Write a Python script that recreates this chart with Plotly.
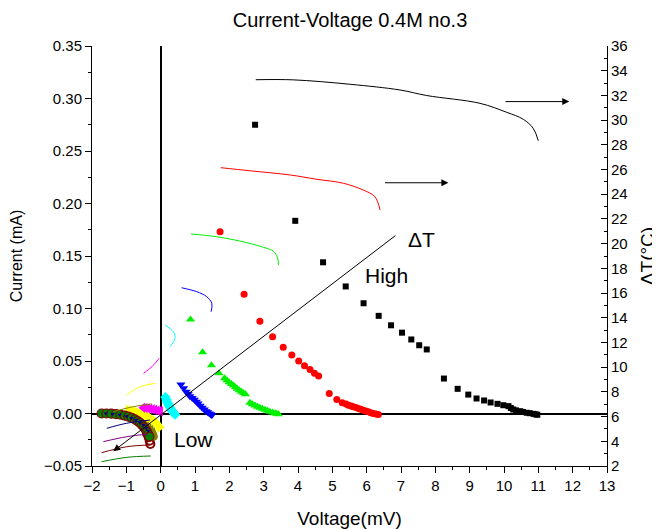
import plotly.graph_objects as go

# ---------------- Current-voltage (left axis) ----------------
black_v = [2.75, 3.92, 4.73, 5.39, 5.91, 6.35, 6.71, 7.03, 7.30, 7.53, 7.75, 8.25, 8.65, 8.96, 9.20,
           9.42, 9.61, 9.81, 9.98, 10.13, 10.20, 10.27, 10.35, 10.47, 10.55, 10.66, 10.75, 10.86, 10.92, 10.97]
black_i = [0.275, 0.1835, 0.144, 0.121, 0.105, 0.093, 0.084, 0.077, 0.0705, 0.065, 0.061, 0.0333, 0.0235, 0.018, 0.0143,
           0.0124, 0.0105, 0.0092, 0.0079, 0.007, 0.0052, 0.0038, 0.003, 0.0022, 0.0015, 0.0007, 0.0003, -0.0003, -0.0008, -0.0012]

red_v = [1.73, 2.43, 2.89, 3.26, 3.57, 3.82, 4.02, 4.19, 4.35, 4.48, 4.60, 4.91, 5.13, 5.29, 5.40, 5.47,
         5.55, 5.61, 5.69, 5.76, 5.83, 5.90, 5.97, 6.05, 6.12, 6.19, 6.27, 6.34]
red_i = [0.173, 0.1136, 0.0879, 0.073, 0.063, 0.0556, 0.050, 0.0454, 0.0419, 0.0384, 0.0356, 0.019, 0.0133, 0.0102, 0.009, 0.0079,
         0.0071, 0.0064, 0.0056, 0.0048, 0.004, 0.0031, 0.0024, 0.0016, 0.0008, 0.0, -0.0005, -0.001]

green_v = [0.87, 1.22, 1.48, 1.70, 1.86, 1.93, 1.99, 2.06, 2.12, 2.18, 2.23, 2.29, 2.35, 2.41, 2.47,
           2.60, 2.67, 2.75, 2.82, 2.89, 2.96, 3.04, 3.11, 3.18, 3.26, 3.33, 3.38, 3.43]
green_i = [0.0895, 0.0584, 0.046, 0.0384, 0.0336, 0.0317, 0.0298, 0.0282, 0.0267, 0.0251, 0.0235, 0.0221, 0.0206, 0.0195, 0.0184,
           0.0102, 0.0089, 0.0076, 0.0065, 0.0054, 0.0045, 0.0035, 0.0026, 0.0016, 0.0009, 0.0003, -0.0002, -0.0006]

blue_v = [0.59, 0.67, 0.74, 0.80, 0.85, 0.92, 0.98, 1.04, 1.09, 1.15, 1.21, 1.27, 1.32, 1.37, 1.42, 1.46, 1.49]
blue_i = [0.0276, 0.0240, 0.0206, 0.0185, 0.0165, 0.0148, 0.013, 0.0112, 0.0095, 0.0075, 0.0054, 0.0038, 0.0022, 0.0011, 0.0, -0.0008, -0.0016]

cyan_v = [0.14, 0.17, 0.19, 0.22, 0.24, 0.27, 0.29, 0.32, 0.34, 0.37, 0.39, 0.42]
cyan_i = [0.0155, 0.0132, 0.011, 0.0092, 0.0075, 0.006, 0.0045, 0.0032, 0.002, 0.001, 0.0, -0.001]

magenta_v = [-0.52, -0.45, -0.38, -0.31, -0.24, -0.17, -0.10, -0.04, 0.0]
magenta_i = [0.0055, 0.0052, 0.0049, 0.0045, 0.0041, 0.0036, 0.003, 0.0024, 0.002]

yellow_v = [-0.95, -0.85, -0.75, -0.66, -0.57, -0.49, -0.41, -0.34, -0.27, -0.20, -0.14, -0.08, -0.03]
yellow_i = [0.003, 0.0025, 0.0018, 0.001, 0.0, -0.001, -0.0022, -0.0035, -0.0048, -0.0065, -0.0085, -0.0108, -0.013]

olive_v = [-0.62, -0.50, -0.40, -0.32, -0.27, -0.24, -0.22, -0.20]
olive_i = [-0.0075, -0.0095, -0.0115, -0.0138, -0.016, -0.0185, -0.0205, -0.022]

navy_v = [-1.60, -1.40, -1.20, -1.00, -0.85, -0.72, -0.60, -0.50, -0.42, -0.36]
navy_i = [0.0001, -0.0004, -0.0012, -0.0025, -0.0042, -0.0062, -0.0085, -0.011, -0.0138, -0.0165]

wine_v = [-0.40, -0.35, -0.32, -0.30]
wine_i = [-0.019, -0.0225, -0.026, -0.029]

dgreen_v = [-1.72, -1.58, -1.44, -1.30, -1.17, -1.05, -0.94, -0.84, -0.75, -0.67, -0.60, -0.54, -0.48, -0.43, -0.39, -0.36, -0.33]
dgreen_i = [0.0, 0.0, -0.0002, -0.0006, -0.0012, -0.002, -0.003, -0.0042, -0.0056, -0.0072, -0.009, -0.011, -0.0132, -0.0155, -0.0178, -0.02, -0.022]

# ---------------- Temperature difference (right axis) ----------------
t_black_v = [2.77, 3.86, 5.52, 6.97, 7.75, 9.30, 10.08, 10.56, 10.85, 11.00]
t_black_t = [33.27, 33.26, 32.90, 32.44, 31.99, 31.36, 30.63, 30.07, 29.34, 28.33]

t_red_v = [1.75, 2.60, 3.77, 4.55, 5.32, 5.90, 6.24, 6.39]
t_red_t = [26.15, 25.90, 25.56, 25.21, 24.89, 24.34, 23.80, 22.72]

t_green_v = [0.88, 1.63, 2.51, 3.09, 3.28, 3.40, 3.43]
t_green_t = [20.78, 20.56, 20.08, 19.62, 19.40, 18.90, 18.27]

t_blue_v = [0.61, 1.05, 1.34, 1.49, 1.47]
t_blue_t = [16.43, 16.11, 15.71, 15.17, 14.49]

t_cyan_v = [0.13, 0.37, 0.42, 0.27]
t_cyan_t = [13.41, 12.87, 12.34, 11.66]

t_magenta_v = [-0.50, -0.25, -0.04]
t_magenta_t = [9.50, 10.05, 10.72]

t_yellow_v = [-0.99, -0.60, -0.16]
t_yellow_t = [7.75, 8.42, 8.69]

t_olive_v = [-1.38, -0.80, -0.26]
t_olive_t = [6.40, 6.80, 7.02]

t_navy_v = [-1.57, -0.99, -0.31]
t_navy_t = [5.05, 5.46, 5.72]

t_purple_v = [-1.67, -0.99, -0.36]
t_purple_t = [3.97, 4.37, 4.59]

t_wine_v = [-1.72, -0.99, -0.33]
t_wine_t = [3.08, 3.56, 3.70]

t_dgreen_v = [-1.72, -0.99, -0.29]
t_dgreen_t = [2.35, 2.70, 2.81]

x_ticks = list(range(-2, 14))
y_ticks = [-0.05, 0.00, 0.05, 0.10, 0.15, 0.20, 0.25, 0.30, 0.35]
y2_ticks = list(range(2, 37, 2))

FONT = "Liberation Sans, Arial, sans-serif"
LIME = "#00f000"

fig = go.Figure()

line_series = [
    (t_black_v, t_black_t, "black"),
    (t_red_v, t_red_t, "red"),
    (t_green_v, t_green_t, LIME),
    (t_blue_v, t_blue_t, "blue"),
    (t_cyan_v, t_cyan_t, "cyan"),
    (t_magenta_v, t_magenta_t, "magenta"),
    (t_yellow_v, t_yellow_t, "yellow"),
    (t_olive_v, t_olive_t, "#808000"),
    (t_navy_v, t_navy_t, "#000080"),
    (t_purple_v, t_purple_t, "#800080"),
    (t_wine_v, t_wine_t, "#800000"),
    (t_dgreen_v, t_dgreen_t, "#008000"),
]
for v, t, c in line_series:
    fig.add_trace(go.Scatter(x=v, y=t, mode="lines", line=dict(color=c, width=1, shape="spline"),
                             showlegend=False, xaxis="x", yaxis="y2"))

marker_series = [
    (black_v, black_i, "black", "square", 6, None),
    (red_v, red_i, "red", "circle", 7, None),
    (green_v, green_i, LIME, "triangle-up", 8, None),
    (blue_v, blue_i, "blue", "triangle-down", 8, None),
    (cyan_v, cyan_i, "cyan", "diamond", 8, None),
    (wine_v, wine_i, "#800000", "circle-open", 8, None),
    (olive_v, olive_i, "#808000", "circle", 8, None),
    (yellow_v, yellow_i, "yellow", "triangle-right", 10, None),
    (dgreen_v, dgreen_i, "#008000", "circle", 9, "#800000"),
    (navy_v, navy_i, "#000080", "triangle-down", 4, None),
    (magenta_v, magenta_i, "magenta", "triangle-left", 9, None),
]
for v, i, c, sym, sz, lc in marker_series:
    mk = dict(color=c, symbol=sym, size=sz)
    if lc:
        mk["line"] = dict(color=lc, width=1.2)
    elif sym.endswith("open"):
        mk["line"] = dict(color=c, width=2)
    else:
        mk["line"] = dict(width=0)
    fig.add_trace(go.Scatter(x=v, y=i, mode="markers", marker=mk, showlegend=False,
                             xaxis="x", yaxis="y"))

common = dict(showgrid=False, showline=True, linecolor="black", linewidth=1, automargin=False,
              tickcolor="black", tickfont=dict(family=FONT, size=15, color="black"))

fig.update_layout(
    width=660, height=530,
    margin=dict(l=84, r=61, t=38, b=72),
    paper_bgcolor="white", plot_bgcolor="white",
    font=dict(family=FONT, size=15, color="black"),
    title=dict(text="Current-Voltage 0.4M no.3", x=342 / 660, xanchor="center", y=1 - 12 / 530, yanchor="middle",
               font=dict(family=FONT, size=20, color="black")),
    xaxis=dict(range=[-2, 13], tickvals=x_ticks, ticks="outside", ticklen=6,
               minor=dict(dtick=0.5, ticks="outside", ticklen=3, tickcolor="black"),
               zeroline=True, zerolinecolor="black", zerolinewidth=1.5,
               title=dict(text="Voltage(mV)", font=dict(family=FONT, size=19), standoff=18),
               **common),
    xaxis2=dict(range=[-2, 13], overlaying="x", side="top", anchor="y", tickvals=x_ticks,
                showticklabels=False, ticks="inside", ticklen=6,
                minor=dict(dtick=0.5, ticks="inside", ticklen=3, tickcolor="black"),
                zeroline=False, **common),
    yaxis=dict(range=[-0.05, 0.35], tickvals=y_ticks, tickformat=".2f", ticks="outside", ticklen=6,
               minor=dict(dtick=0.025, ticks="outside", ticklen=3, tickcolor="black"),
               zeroline=True, zerolinecolor="black", zerolinewidth=2,
               title=dict(text="Current (mA)", font=dict(family=FONT, size=16), standoff=17),
               **common),
    yaxis2=dict(range=[2, 36], overlaying="y", side="right", anchor="x", tickvals=y2_ticks,
                ticks="inside", ticklen=6,
                minor=dict(dtick=1, ticks="inside", ticklen=3, tickcolor="black"),
                zeroline=False,
                title=dict(text="ΔT(°C)", font=dict(family=FONT, size=19), standoff=14),
                **common),
)

# arrows
fig.add_annotation(x=-1.38, y=-0.0359, ax=6.88, ay=0.1705, xref="x", yref="y", axref="x", ayref="y",
                   showarrow=True, arrowhead=2, arrowsize=1.4, arrowwidth=1, arrowcolor="black", text="")
fig.add_annotation(x=11.9, y=31.5, ax=10.0, ay=31.5, xref="x", yref="y2", axref="x", ayref="y2",
                   showarrow=True, arrowhead=2, arrowsize=1.4, arrowwidth=1, arrowcolor="black", text="")
fig.add_annotation(x=8.38, y=24.93, ax=6.49, ay=24.93, xref="x", yref="y2", axref="x", ayref="y2",
                   showarrow=True, arrowhead=2, arrowsize=1.4, arrowwidth=1, arrowcolor="black", text="")

for txt, xv, yv in [("ΔT", 7.61, 0.166), ("High", 6.59, 0.131), ("Low", 0.97, -0.025)]:
    fig.add_annotation(x=xv, y=yv, xref="x", yref="y", text=txt, showarrow=False,
                       font=dict(family=FONT, size=21, color="black"))

fig.write_html("out.html")
